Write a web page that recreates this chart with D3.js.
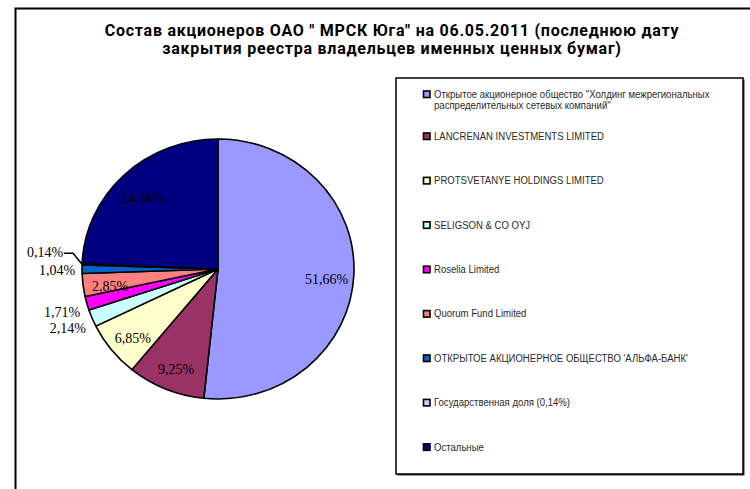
<!DOCTYPE html>
<html>
<head>
<meta charset="utf-8">
<script src="https://cdn.jsdelivr.net/npm/d3@7"></script>
<style>
  body { margin: 0; background: #fff; }
  svg { display: block; }
</style>
</head>
<body>
<div id="chart"></div>
<script>
const titleLines = [
  "Состав акционеров ОАО \" МРСК Юга\" на 06.05.2011 (последнюю дату",
  "закрытия реестра владельцев именных ценных бумаг)"
];

const holders = [
  ["Открытое акционерное общество \"Холдинг межрегиональных", "распределительных сетевых компаний\""],
  ["LANCRENAN INVESTMENTS LIMITED"],
  ["PROTSVETANYE HOLDINGS LIMITED"],
  ["SELIGSON & CO OYJ"],
  ["Roselia Limited"],
  ["Quorum Fund Limited"],
  ["ОТКРЫТОЕ АКЦИОНЕРНОЕ ОБЩЕСТВО 'АЛЬФА-БАНК'"],
  ["Государственная доля (0,14%)"],
  ["Остальные"]
];
const shares = [51.66, 9.25, 6.85, 2.14, 1.71, 2.85, 1.04, 0.14, 24.36];
const colors = ["#9999ff", "#993366", "#ffffcc", "#ccffff", "#ff00ff", "#ff8080", "#0066cc", "#ccccff", "#000080"];
// where each label goes: inside the slice, outside it, or moved out with a leader line
const labelMode = ["in", "in", "in", "out", "out", "in", "out", "leader", "in"];

const width = 750;
const height = 489;

const cx = 218, cy = 269;
const rx = 136, ry = 130;

const fmt = (v) => v.toFixed(2).replace(".", ",") + "%";

const svg = d3.select("#chart")
  .append("svg")
  .attr("width", width)
  .attr("height", height);

// outer frame
svg.append("rect")
  .attr("x", 15.5)
  .attr("y", 8.5)
  .attr("width", 800)
  .attr("height", 600)
  .attr("fill", "none")
  .attr("stroke", "#000")
  .attr("stroke-width", 2);

// title
svg.append("g")
  .selectAll("text")
  .data(titleLines)
  .join("text")
  .attr("x", 392)
  .attr("y", (d, i) => 36 + i * 18)
  .attr("text-anchor", "middle")
  .attr("font-family", "Roboto, 'Liberation Sans', sans-serif")
  .attr("font-weight", "bold")
  .attr("font-size", 16)
  .attr("letter-spacing", 0.75)
  .attr("fill", "#000")
  .text((d) => d);

// pie
const data = shares.map((v, i) => ({ value: v, name: holders[i].join(" "), color: colors[i], mode: labelMode[i] }));

const pie = d3.pie().value((d) => d.value).sort(null);
const arcs = pie(data);

const arc = d3.arc().innerRadius(0).outerRadius(rx);
const labelArc = d3.arc().innerRadius(rx * 0.8).outerRadius(rx * 0.8);
const yScale = ry / rx;

const pieG = svg.append("g")
  .attr("transform", `translate(${cx},${cy}) scale(1,${yScale})`);

pieG.selectAll("path")
  .data(arcs)
  .join("path")
  .attr("d", arc)
  .attr("fill", (d) => d.data.color)
  .attr("stroke", "#000")
  .attr("stroke-width", 1.6)
  .attr("stroke-linejoin", "round");

const labelG = svg.append("g")
  .attr("font-family", "'Liberation Serif', 'Times New Roman', serif")
  .attr("font-size", 14)
  .attr("fill", "#000");

const midAngle = (d) => (d.startAngle + d.endAngle) / 2;
const edge = (d, k) => {
  const a = midAngle(d);
  return [cx + Math.sin(a) * rx * k, cy - Math.cos(a) * ry * k];
};

arcs.forEach((d) => {
  if (d.data.mode === "in") {
    const [x, y] = labelArc.centroid(d);
    labelG.append("text")
      .attr("x", cx + x)
      .attr("y", cy + y * yScale + 5)
      .attr("text-anchor", "middle")
      .attr("dominant-baseline", "central")
      .text(fmt(d.data.value));
  } else if (d.data.mode === "out") {
    const [x, y] = edge(d, 1.05);
    const shift = Math.max(-7, Math.min(7, -Math.cos(midAngle(d)) * 25));
    labelG.append("text")
      .attr("x", x)
      .attr("y", y + shift + 1)
      .attr("text-anchor", "end")
      .attr("dominant-baseline", "central")
      .text(fmt(d.data.value));
  } else {
    const [x0, y0] = edge(d, 1);
    const x1 = x0 - 9, y1 = y0 - 11;
    const x2 = x1 - 9;
    labelG.append("path")
      .attr("d", `M${x0},${y0}L${x1},${y1}L${x2},${y1}`)
      .attr("fill", "none")
      .attr("stroke", "#000")
      .attr("stroke-width", 1.5);
    labelG.append("text")
      .attr("x", x2 - 1)
      .attr("y", y1 - 1)
      .attr("text-anchor", "end")
      .attr("dominant-baseline", "central")
      .text(fmt(d.data.value));
  }
});

// legend
const legend = svg.append("g");

legend.append("rect")
  .attr("x", 397.5)
  .attr("y", 79.5)
  .attr("width", 347)
  .attr("height", 396)
  .attr("fill", "#333");
legend.append("rect")
  .attr("x", 396)
  .attr("y", 78)
  .attr("width", 347)
  .attr("height", 396)
  .attr("fill", "#fff")
  .attr("stroke", "#000")
  .attr("stroke-width", 1.5);

const itemY = (i) => (i === 0 ? 94 : 136 + (i - 1) * 44.4);

const items = legend.selectAll("g.item")
  .data(data.map((d, i) => ({ lines: holders[i], color: d.color })))
  .join("g")
  .attr("class", "item")
  .attr("transform", (d, i) => `translate(423,${itemY(i)})`);

items.append("rect")
  .attr("x", 0.5)
  .attr("y", -3)
  .attr("width", 6.5)
  .attr("height", 6.5)
  .attr("fill", (d) => d.color)
  .attr("stroke", "#000")
  .attr("stroke-width", 1.6);

// condensed legend type, like Arial Narrow
items.each(function (d) {
  d3.select(this)
    .append("g")
    .attr("transform", "translate(11,0) scale(0.87,1)")
    .selectAll("text")
    .data(d.lines)
    .join("text")
    .attr("x", 0)
    .attr("y", (t, j) => j * 11)
    .attr("dominant-baseline", "central")
    .attr("font-family", "'Liberation Sans', Arial, sans-serif")
    .attr("font-size", 11)
    .attr("fill", "#2a2a2a")
    .text((t) => t);
});
</script>
</body>
</html>
